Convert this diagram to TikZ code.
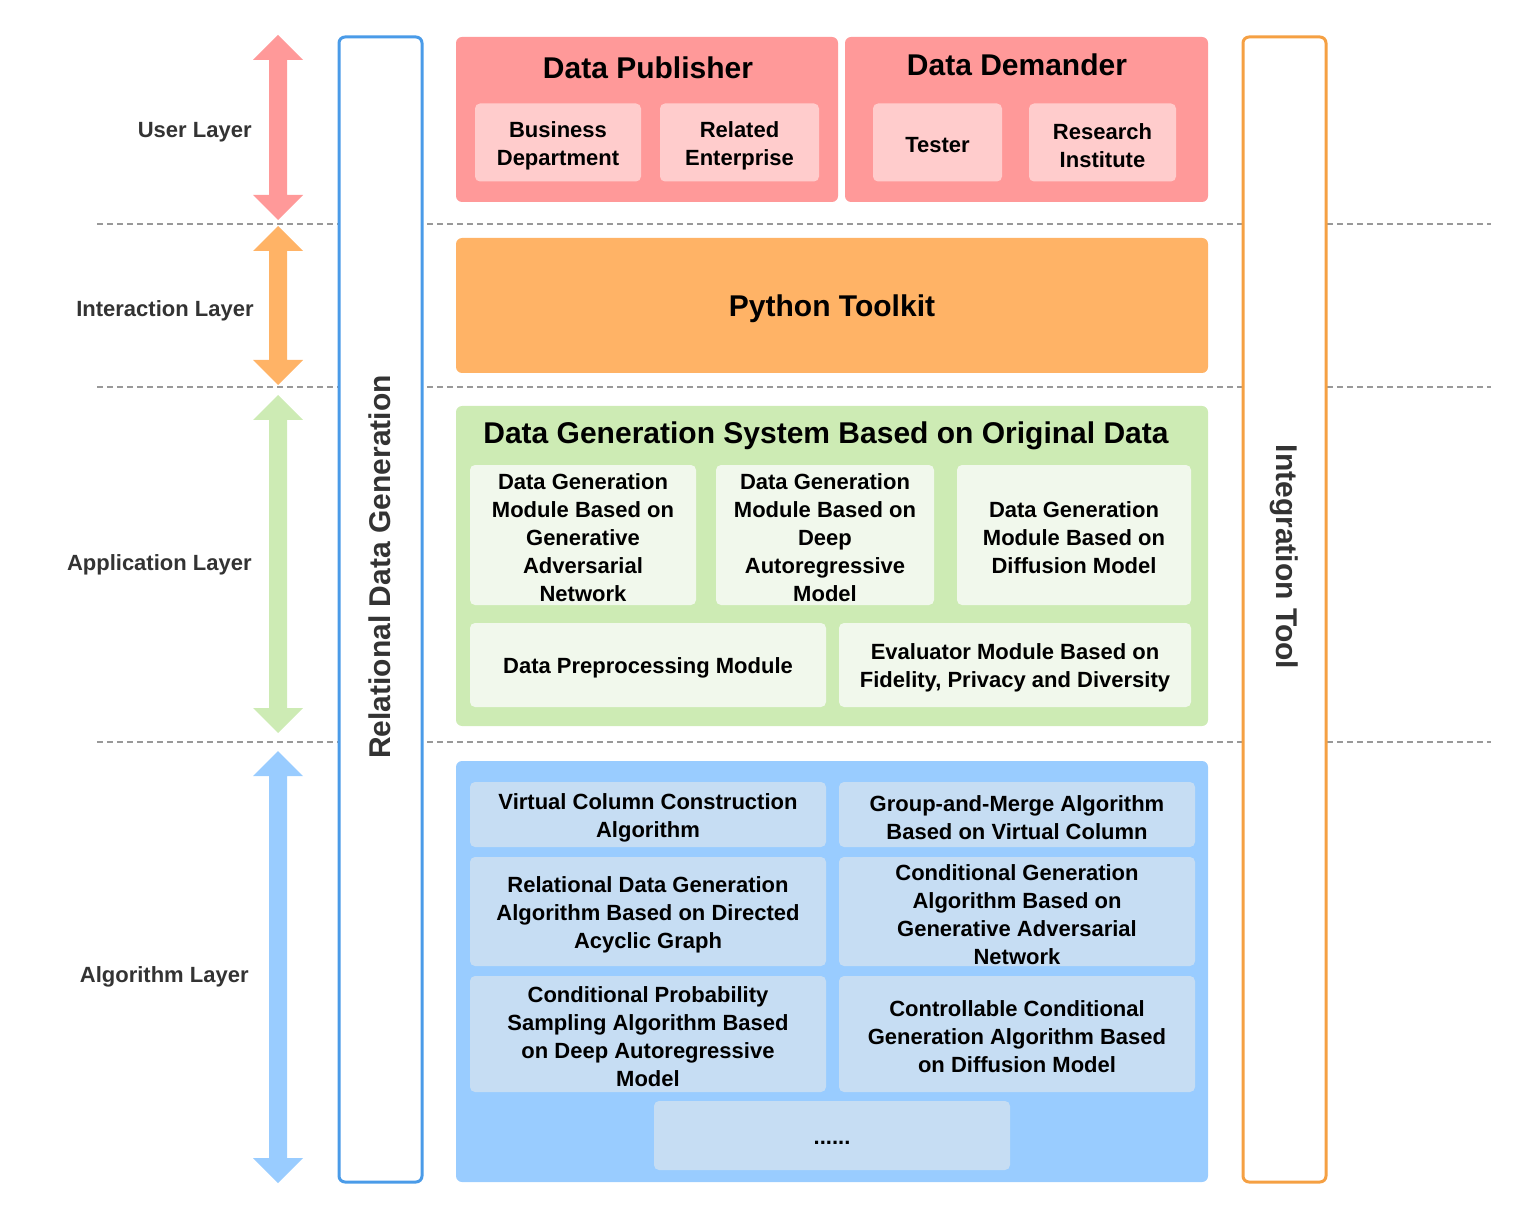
\documentclass[tikz,border=0pt]{standalone}
\usepackage{fontspec}
\setmainfont{Liberation Sans}
\definecolor{redA}{HTML}{FF9999}
\definecolor{redB}{HTML}{FFCCCC}
\definecolor{orA}{HTML}{FFB366}
\definecolor{grA}{HTML}{CDEBB4}
\definecolor{grB}{HTML}{F1F8EC}
\definecolor{blA}{HTML}{99CCFF}
\definecolor{blB}{HTML}{C6DDF3}
\definecolor{blF}{HTML}{4A9BE8}
\definecolor{orF}{HTML}{F5A043}
\definecolor{txt}{HTML}{333333}
\definecolor{dashc}{HTML}{999999}
\newcommand\dblarrow[4]{%
  \fill[#1] (#2,#3) -- (#2+25,#3+25) -- (#2+9,#3+25) -- (#2+9,#4-25) -- (#2+25,#4-25) -- (#2,#4)
   -- (#2-25,#4-25) -- (#2-9,#4-25) -- (#2-9,#3+25) -- (#2-25,#3+25) -- cycle;}
% box with text: name, fill, w, h, x, y, text
\newcommand\ibox[7]{%
  \node[inbox,fill=#2,wh={#3}{#4}] (#1) at (#5,#6) {};
  \node[small] (#1-t) at (#1.center) {#7};}
\begin{document}
\begin{tikzpicture}[x=0.5pt,y=-0.5pt,
  wh/.style 2 args={minimum width=#1*0.5pt,minimum height=#2*0.5pt},
  big/.style={font=\fontsize{15}{18}\selectfont\bfseries,text=black,inner sep=0pt,yshift=-1.5pt},
  small/.style={font=\fontsize{11}{14}\selectfont\bfseries,align=center,text=black,inner sep=0pt,yshift=-1.5pt},
  lab/.style={font=\fontsize{11}{14}\selectfont\bfseries,text=txt,inner sep=0pt,yshift=-1.5pt},
  vlab/.style={font=\fontsize{15}{18}\selectfont\bfseries,text=txt,inner sep=0pt},
  outer/.style={rounded corners=3pt,inner sep=0pt},
  inbox/.style={rounded corners=2.5pt,inner sep=0pt},
  frame/.style={line width=1.5pt,fill=white,rounded corners=3pt,inner sep=0pt},
  sep/.style={dashc,line width=0.6pt,dash pattern=on 3pt off 2pt}
]
\useasboundingbox (0,0) rectangle (1531,1219);
% separators
\coordinate (s1a) at (97,224); \coordinate (s1b) at (1491,224);
\coordinate (s2a) at (97,387); \coordinate (s2b) at (1491,387);
\coordinate (s3a) at (97,742); \coordinate (s3b) at (1491,742);
\draw[sep] (s1a) -- (s1b);
\draw[sep] (s2a) -- (s2b);
\draw[sep] (s3a) -- (s3b);
% layer arrows
\dblarrow{redA}{278}{35}{220}
\dblarrow{orA}{278}{226}{385}
\dblarrow{grA}{278}{395}{733}
\dblarrow{blA}{278}{751}{1183}
% layer labels
\node[lab,anchor=east] (ul) at (252,129) {User Layer};
\node[lab,anchor=east] (il) at (254,308) {Interaction Layer};
\node[lab,anchor=east] (al) at (252,562) {Application Layer};
\node[lab,anchor=east] (gl) at (249,974) {Algorithm Layer};
% side frames
\node[frame,draw=blF,wh={83}{1145}] (rdg) at (380.5,609.5) {};
\node[vlab,rotate=90] (rdgt) at (380,567) {Relational Data Generation};
\node[frame,draw=orF,wh={83}{1145}] (itl) at (1284.5,609.5) {};
\node[vlab,rotate=-90] (itlt) at (1284,557) {Integration Tool};
% user layer
\node[outer,fill=redA,wh={382}{165}] (pub) at (647,119.5) {};
\node[outer,fill=redA,wh={363}{165}] (dem) at (1026.5,119.5) {};
\node[big] (pubt) at (648,65) {Data Publisher};
\node[big] (demt) at (1017,62) {Data Demander};
\ibox{bd}{redB}{166}{78}{558}{142.5}{Business\\Department}
\ibox{re}{redB}{159}{78}{739.5}{142.5}{Related\\Enterprise}
\ibox{te}{redB}{129}{78}{937.5}{142.5}{Tester}
\ibox{ri}{redB}{147}{78}{1102.5}{142.5}{Research\\Institute}
% interaction layer
\node[outer,fill=orA,wh={752}{135}] (py) at (832,305.5) {};
\node[big] (pyt) at (py.center) {Python Toolkit};
% application layer
\node[outer,fill=grA,wh={752}{320}] (gen) at (832,566) {};
\node[big] (gent) at (826,433) {Data Generation System Based on Original Data};
\ibox{g1}{grB}{226}{140}{583}{535}{Data Generation\\Module Based on\\Generative\\Adversarial\\Network}
\ibox{g2}{grB}{218}{140}{825}{535}{Data Generation\\Module Based on\\Deep\\Autoregressive\\Model}
\ibox{g3}{grB}{234}{140}{1074}{535}{Data Generation\\Module Based on\\Diffusion Model}
\ibox{g4}{grB}{356}{84}{648}{665}{Data Preprocessing Module}
\ibox{g5}{grB}{352}{84}{1015}{665}{Evaluator Module Based on\\Fidelity, Privacy and Diversity}
% algorithm layer
\node[outer,fill=blA,wh={752}{421}] (alg) at (832,971.5) {};
\ibox{b1}{blB}{356}{65}{648}{814.5}{Virtual Column Construction\\Algorithm}
\ibox{b2}{blB}{356}{65}{1017}{814.5}{Group-and-Merge Algorithm\\Based on Virtual Column}
\ibox{b3}{blB}{356}{109}{648}{911.5}{Relational Data Generation\\Algorithm Based on Directed\\Acyclic Graph}
\ibox{b4}{blB}{356}{109}{1017}{911.5}{Conditional Generation\\Algorithm Based on\\Generative Adversarial\\Network}
\ibox{b5}{blB}{356}{116}{648}{1034}{Conditional Probability\\Sampling Algorithm Based\\on Deep Autoregressive\\Model}
\ibox{b6}{blB}{356}{116}{1017}{1034}{Controllable Conditional\\Generation Algorithm Based\\on Diffusion Model}
\ibox{b7}{blB}{356}{69}{832}{1135.5}{\strut......}
\end{tikzpicture}
\end{document}
